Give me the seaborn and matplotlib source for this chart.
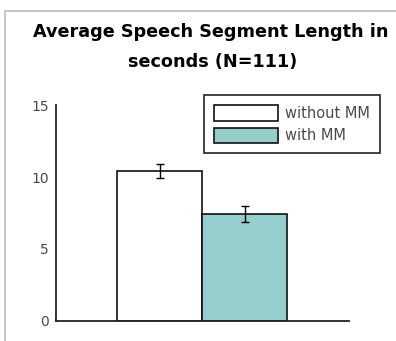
import pandas as pd
import matplotlib
matplotlib.use('Agg')
import matplotlib.pyplot as plt
from matplotlib.lines import Line2D
import seaborn as sns

# values
conditions = ["without MM", "with MM"]
mean_len = [10.4, 7.45]
err_len = [0.5, 0.55]
y_ticks = [0, 5, 10, 15]

df = pd.DataFrame({"group": ["all", "all"], "cond": conditions, "mean": mean_len})

sns.set_style("white")
plt.rcParams['font.family'] = ['DejaVu Sans']

fig = plt.figure(figsize=(3.96, 3.41), dpi=100)
ax = fig.add_axes([0.1414, 0.0587, 0.881 - 0.1414, 0.692 - 0.0587])

sns.barplot(data=df, x="group", y="mean", hue="cond", palette=["white", "#96cdcd"],
            saturation=1, edgecolor="#111111", linewidth=1.2, width=0.58,
            errorbar=None, ax=ax)

# error bars at the centre of each bar
bars = [p for p in ax.patches if p.get_height() > 0]
xs = [b.get_x() + b.get_width() / 2 for b in bars]
ax.errorbar(xs, mean_len, yerr=err_len, fmt="none", ecolor="black", elinewidth=1, capsize=3, capthick=1)

ax.set_xlim(-0.5, 0.5)
ax.set_ylim(0, 15)
ax.set_yticks(y_ticks)
ax.set_xticks([])
ax.set_xlabel("")
ax.set_ylabel("")
ax.tick_params(axis='y', length=0, labelsize=10, labelcolor="#4a4a4a", pad=5)
sns.despine(ax=ax)
for s in ["left", "bottom"]:
    ax.spines[s].set_color("#222222")
    ax.spines[s].set_linewidth(1.3)

leg = ax.legend(loc="upper left", bbox_to_anchor=(0.515, 0.721), bbox_transform=fig.transFigure,
                borderaxespad=0, fancybox=False, edgecolor="#222222", framealpha=1,
                fontsize=10.5, handlelength=4.4, handleheight=1.25, handletextpad=0.45,
                borderpad=0.7, labelspacing=0.45, labelcolor="#4a4a4a")
leg.get_frame().set_linewidth(1.2)
for h in leg.legend_handles:
    h.set_edgecolor("#111111")

fig.text(0.532, 0.905, "Average Speech Segment Length in", ha="center", va="center",
         fontsize=12.7, fontweight="bold", color="black")
fig.text(0.537, 0.818, "seconds (N=111)", ha="center", va="center",
         fontsize=12.7, fontweight="bold", color="black")

# light frame on the left and top
fig.add_artist(Line2D([0.013, 0.013], [0, 0.968], color="#c8c8c8", lw=1.5, transform=fig.transFigure))
fig.add_artist(Line2D([0.013, 1.0], [0.968, 0.968], color="#c8c8c8", lw=1.5, transform=fig.transFigure))

fig.savefig("out.png", dpi=100)
